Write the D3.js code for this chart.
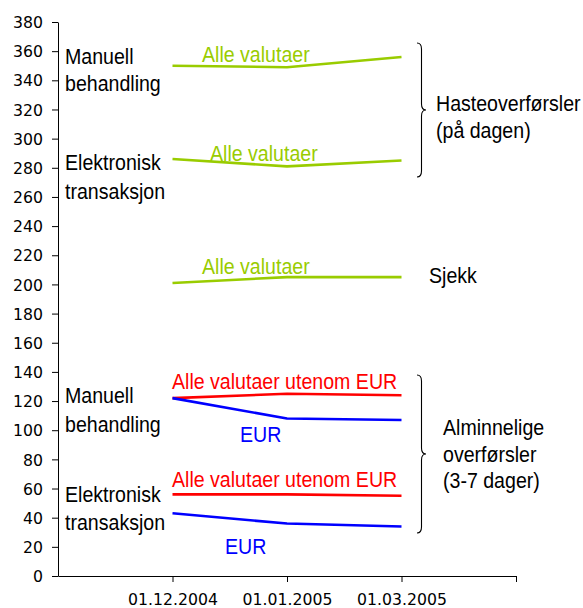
<!DOCTYPE html>
<html><head><meta charset="utf-8">
<script src="https://cdn.jsdelivr.net/npm/d3@7"></script>
<style>body{margin:0;background:#fff;}svg{display:block;}</style>
</head><body>
<svg id="c" width="583" height="608"></svg>
<script>
const categories = ["01.12.2004", "01.01.2005", "01.03.2005"];
const yTicks = d3.range(0, 381, 20);
// Hasteoverførsler (på dagen)
const hasteManuell = [350, 349, 356];
const hasteElektronisk = [286, 281, 285];
// Sjekk
const sjekk = [201, 205, 205];
// Alminnelige overførsler
const almManuellAndre = [122, 125, 124];
const almManuellEUR = [122, 108, 107];
const almElektroniskAndre = [56, 56, 55];
const almElektroniskEUR = [43, 36, 34];

const GREEN = "#99cc00", RED = "#ff0000", BLUE = "#0000ff";
const series = [
  {values: hasteManuell, color: GREEN},
  {values: hasteElektronisk, color: GREEN},
  {values: sjekk, color: GREEN},
  {values: almManuellAndre, color: RED},
  {values: almManuellEUR, color: BLUE},
  {values: almElektroniskAndre, color: RED},
  {values: almElektroniskEUR, color: BLUE}
];

const svg = d3.select("#c");
const x = d3.scaleLinear().domain([0, 4]).range([58, 516]);
const y = d3.scaleLinear().domain([0, 380]).range([576, 22]);

const tickFont = "'DejaVu Sans', Verdana, sans-serif";
const yAxis = svg.append("g").attr("transform", "translate(58,0)")
  .call(d3.axisLeft(y).tickValues(yTicks).tickSize(6).tickSizeOuter(0).tickPadding(9));
const xAxis = svg.append("g").attr("transform", "translate(0,576)")
  .call(d3.axisBottom(x).tickValues([1, 2, 3, 4]).tickSize(6).tickSizeOuter(0).tickPadding(13)
    .tickFormat(d => categories[d - 1] || ""));
[yAxis, xAxis].forEach(a => {
  a.selectAll("path,line").attr("stroke", "#000").attr("stroke-width", 1);
  a.selectAll("text").attr("fill", "#000").style("font-family", tickFont).style("font-size", "15.7px");
});
yAxis.selectAll("text").attr("dy", "0.36em");
xAxis.selectAll("text").attr("dy", "0.62em");

const line = d3.line().x((d, i) => x(i + 1)).y(d => y(d));
svg.append("g").selectAll("path").data(series).join("path")
  .attr("d", d => line(d.values))
  .attr("fill", "none").attr("stroke", d => d.color).attr("stroke-width", 2.6)
  .attr("stroke-linejoin", "round");

function label(text, px, py, color) {
  svg.append("text").attr("transform", `translate(${px},${py}) scale(0.89,1)`)
    .attr("fill", color).style("font-family", "'Liberation Sans', Arial, sans-serif")
    .style("font-size", "22px").text(text);
}
// series labels
label("Alle valutaer", 202, 62, GREEN);
label("Alle valutaer", 210, 161, GREEN);
label("Alle valutaer", 202, 274, GREEN);
label("Alle valutaer utenom EUR", 172, 389, RED);
label("Alle valutaer utenom EUR", 172, 487, RED);
label("EUR", 240, 442, BLUE);
label("EUR", 225, 554, BLUE);
// left group labels
label("Manuell", 65, 64, "#000");
label("behandling", 65, 91, "#000");
label("Elektronisk", 65, 170, "#000");
label("transaksjon", 65, 199, "#000");
label("Manuell", 65, 403, "#000");
label("behandling", 65, 432, "#000");
label("Elektronisk", 65, 502, "#000");
label("transaksjon", 65, 530, "#000");
// right group labels
label("Hasteoverførsler", 436, 111, "#000");
label("(på dagen)", 436, 138, "#000");
label("Sjekk", 429, 283, "#000");
label("Alminnelige", 443, 435, "#000");
label("overførsler", 443, 462, "#000");
label("(3-7 dager)", 443, 488, "#000");

function brace(top, bottom) {
  const x0 = 417, x1 = 421.5, x2 = 426, r = 6, mid = (top + bottom) / 2;
  const p = d3.path();
  p.moveTo(x0, top);
  p.quadraticCurveTo(x1, top, x1, top + r);
  p.lineTo(x1, mid - r);
  p.quadraticCurveTo(x1, mid, x2, mid);
  p.quadraticCurveTo(x1, mid, x1, mid + r);
  p.lineTo(x1, bottom - r);
  p.quadraticCurveTo(x1, bottom, x0, bottom);
  svg.append("path").attr("d", p.toString()).attr("fill", "none")
    .attr("stroke", "#000").attr("stroke-width", 1.1);
}
brace(43, 177);
brace(375, 533);
</script>
</body></html>
